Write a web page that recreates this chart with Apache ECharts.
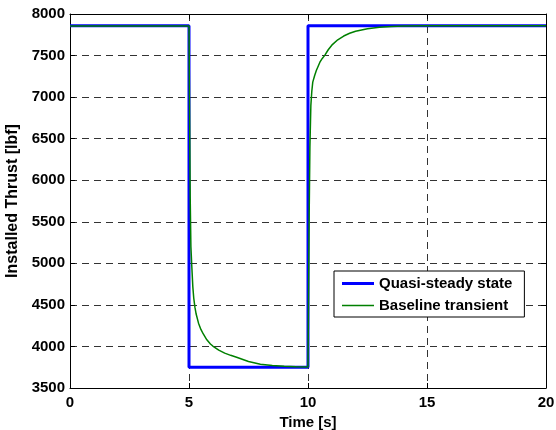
<!DOCTYPE html>
<html>
<head>
<meta charset="utf-8">
<script src="https://cdn.jsdelivr.net/npm/echarts@6/dist/echarts.min.js"></script>
<style>
  html, body { margin: 0; padding: 0; background: #fff; }
  #chart { width: 556px; height: 430px; }
</style>
</head>
<body>
<div id="chart"></div>
<script>
// Time [s] and installed thrust [lbf]
const quasiTime   = [0, 5, 5, 10, 10, 20];
const quasiThrust = [7860, 7860, 3750, 3750, 7860, 7860];

const transTime = [0, 5.0, 5.02, 5.05, 5.08, 5.12, 5.16, 5.2, 5.25, 5.3, 5.4, 5.5, 5.6, 5.75, 5.9, 6.0, 6.25, 6.5, 6.75, 7.0, 7.5, 8.0, 8.5, 9.0, 9.5, 10.0,
                   10.02, 10.05, 10.08, 10.12, 10.16, 10.2, 10.28, 10.35, 10.5, 10.6, 10.71, 10.85, 11.0, 11.25, 11.5, 11.75, 12.0, 12.5, 13.0, 13.5, 14.0, 15.0, 20.0];
const transThrust = [7855, 7855, 7000, 5800, 5200, 4950, 4720, 4580, 4470, 4390, 4280, 4205, 4150, 4080, 4030, 4005, 3955, 3920, 3893, 3870, 3818, 3787, 3770, 3762, 3756, 3752,
                     4500, 5600, 6400, 6900, 7070, 7180, 7260, 7320, 7420, 7465, 7505, 7570, 7625, 7690, 7735, 7768, 7792, 7822, 7840, 7850, 7855, 7858, 7858];

const seriesNames = ['Quasi-steady state', 'Baseline transient'];
const xTicks = { min: 0, max: 20, interval: 5 };
const yTicks = { min: 3500, max: 8000, interval: 500 };

const zip = (a, b) => a.map((v, i) => [v, b[i]]);

const font = 'Liberation Sans, Arial, sans-serif';
const labelStyle = { fontFamily: font, fontWeight: 'bold', fontSize: 15, color: '#000' };
const gridDash = { color: '#333', width: 1, type: [7, 5] };

const chart = echarts.init(document.getElementById('chart'), null, { renderer: 'canvas' });

const baseAxis = {
  axisLine: { show: true, onZero: false, lineStyle: { color: '#000', width: 1 } },
  axisTick: { show: true, inside: true, length: 5, lineStyle: { color: '#000' } },
};

// plain line legend marks: a thin invisible sliver keeps the icon box 32x14
const lineIcon = (w) => {
  const y0 = 7 - w / 2, y1 = 7 + w / 2;
  return 'path://M0,0H0.01V14H0ZM0,' + y0 + 'H32V' + y1 + 'H0Z';
};

chart.setOption({
  animation: false,
  backgroundColor: '#fff',
  grid: { left: 70, right: 10, top: 14, bottom: 42, containLabel: false, outerBoundsMode: 'none' },
  xAxis: [
    Object.assign({}, baseAxis, {
      type: 'value', min: xTicks.min, max: xTicks.max, interval: xTicks.interval,
      name: 'Time [s]', nameLocation: 'middle', nameGap: 25,
      nameTextStyle: labelStyle,
      axisLabel: Object.assign({ margin: 7, formatter: (v) => String(v) }, labelStyle),
      splitLine: { show: true, lineStyle: gridDash }
    }),
    Object.assign({}, baseAxis, {
      type: 'value', position: 'top', min: xTicks.min, max: xTicks.max, interval: xTicks.interval,
      axisLabel: { show: false }, splitLine: { show: false }
    })
  ],
  yAxis: [
    Object.assign({}, baseAxis, {
      type: 'value', min: yTicks.min, max: yTicks.max, interval: yTicks.interval,
      name: 'Installed Thrust [lbf]', nameLocation: 'middle', nameGap: 48, nameRotate: 90,
      nameTextStyle: Object.assign({}, labelStyle, { fontSize: 16 }),
      axisLabel: Object.assign({ margin: 5, formatter: (v) => String(v) }, labelStyle),
      splitLine: { show: true, lineStyle: gridDash }
    }),
    Object.assign({}, baseAxis, {
      type: 'value', position: 'right', min: yTicks.min, max: yTicks.max, interval: yTicks.interval,
      axisLabel: { show: false }, splitLine: { show: false }
    })
  ],
  legend: {
    orient: 'vertical',
    left: 334, top: 271,
    padding: [5, 12, 4, 8],
    itemGap: 7,
    itemWidth: 32,
    itemHeight: 14,
    backgroundColor: '#fff',
    borderColor: '#000',
    borderWidth: 1,
    borderRadius: 0,
    textStyle: { fontFamily: font, fontWeight: 'bold', fontSize: 15, color: '#000' },
    data: [
      { name: seriesNames[0], icon: lineIcon(3) },
      { name: seriesNames[1], icon: lineIcon(1.5) }
    ]
  },
  series: [
    {
      name: seriesNames[0], type: 'line', data: zip(quasiTime, quasiThrust),
      symbol: 'none', lineStyle: { color: '#0000ff', width: 3 }, itemStyle: { color: '#0000ff' }, z: 2
    },
    {
      name: seriesNames[1], type: 'line', data: zip(transTime, transThrust),
      symbol: 'none', lineStyle: { color: '#008000', width: 1.5 }, itemStyle: { color: '#008000' }, z: 3
    }
  ]
});
</script>
</body>
</html>
